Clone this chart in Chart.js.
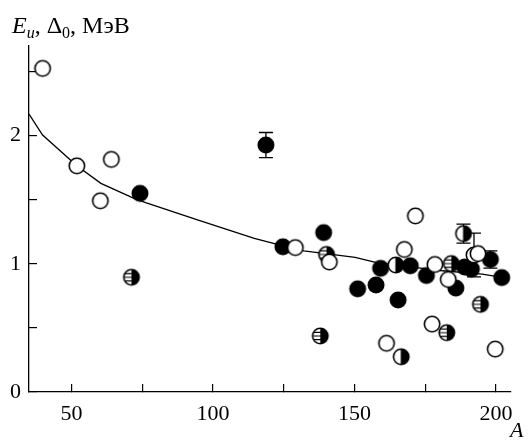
<!DOCTYPE html>
<html><head><meta charset="utf-8">
<script src="https://cdn.jsdelivr.net/npm/chart.js@4/dist/chart.umd.min.js"></script>
<style>
body{margin:0;font-size:22px;font-family:"Liberation Serif","Times New Roman",serif}
#wrap{width:530px;height:441px;position:relative;font-family:"Liberation Serif","Times New Roman","Tinos","Noto Serif","DejaVu Serif",serif;color:#000}
#wrap canvas{position:absolute;left:0;top:0}
.lbl{position:absolute;white-space:nowrap;line-height:24px;font-size:24px}
.lbl sub{font-size:16px;line-height:0;vertical-align:-5px}
</style>
</head><body><div id="wrap"><canvas id="c" width="530" height="441"></canvas>
<div class="lbl" style="left:12px;top:13px"><i>E</i><sub><i>u</i></sub>, Δ<sub>0</sub>, МэВ</div>
<div class="lbl" style="left:510px;top:419px;font-size:22px;line-height:22px"><i>A</i></div>
</div>
<script>
// ---- data ----
const openA = [39.8, 51.9, 60.2, 64.1, 129.1, 141.1, 167.6, 171.5, 178.4, 183.1, 192.2, 193.6, 177.4, 161.3, 199.7];
const openY = [2.525, 1.765, 1.492, 1.815, 1.127, 1.014, 1.112, 1.374, 0.995, 0.878, 1.069, 1.080, 0.530, 0.380, 0.335];

const filledA = [74.2, 118.7, 124.7, 139.1, 151.1, 157.6, 159.2, 165.4, 169.7, 175.4, 185.8, 188.9, 191.3, 198.0, 202.0];
const filledY = [1.55, 1.927, 1.133, 1.244, 0.805, 0.835, 0.965, 0.718, 0.985, 0.909, 0.811, 0.975, 0.959, 1.034, 0.893];

const stripedA = [71.2, 137.9, 140.1, 182.6, 184.2, 194.5];
const stripedY = [0.895, 0.437, 1.073, 0.463, 1.002, 0.684];

const halfA = [164.6, 166.5, 188.5];
const halfY = [0.991, 0.275, 1.236];

const errA = [118.7, 188.5, 192.2, 198.0];
const errY = [1.927, 1.236, 1.069, 1.034];
const errE = [0.098, 0.074, 0.17, 0.068];

const curveA = [35, 39.8, 51.9, 60.4, 72.1, 76.2, 94.8, 114.6, 125.1, 132.1, 150.2, 157.8, 181.1, 195.1, 202.1];
const curveY = [2.168, 2.005, 1.765, 1.628, 1.511, 1.478, 1.342, 1.199, 1.139, 1.102, 1.051, 1.009, 0.946, 0.920, 0.895];

const xTicks = [50, 75, 100, 125, 150, 175, 200];
const xLabels = ['50', '', '100', '', '150', '', '200'];
const yTicks = [0, 0.5, 1, 1.5, 2, 2.5];
const yLabels = ['0', '', '1', '', '2', ''];

// ---- markers ----
function makeMarker(type) {
  const s = 22, c = document.createElement('canvas');
  c.width = s; c.height = s;
  const g = c.getContext('2d');
  const cx = 11, cy = 11, r = 7.7;
  g.lineWidth = 1.6; g.strokeStyle = '#000'; g.fillStyle = '#000';
  if (type === 'filled') {
    g.beginPath(); g.arc(cx, cy, r + 0.8, 0, Math.PI * 2); g.fill();
    return c;
  }
  g.beginPath(); g.arc(cx, cy, r, 0, Math.PI * 2); g.fillStyle = '#fff'; g.fill();
  if (type === 'half' || type === 'striped') {
    g.fillStyle = '#000';
    g.beginPath(); g.moveTo(cx, cy - r); g.arc(cx, cy, r, -Math.PI / 2, Math.PI / 2); g.closePath(); g.fill();
  }
  if (type === 'striped') {
    g.save();
    g.beginPath(); g.moveTo(cx, cy - r); g.arc(cx, cy, r, -Math.PI / 2, Math.PI / 2, true); g.closePath(); g.clip();
    g.lineWidth = 1.2;
    [-3.6, 0, 3.6].forEach(d => { g.beginPath(); g.moveTo(cx - r - 1, cy + d); g.lineTo(cx, cy + d); g.stroke(); });
    g.restore();
  }
  if (type === 'half') {
    g.lineWidth = 1; g.beginPath(); g.moveTo(cx, cy - r); g.lineTo(cx, cy + r); g.stroke();
  }
  g.lineWidth = 1.6;
  g.beginPath(); g.arc(cx, cy, r, 0, Math.PI * 2); g.stroke();
  return c;
}
const pts = (A, Y) => A.map((a, i) => ({ x: a, y: Y[i] }));
const FAM = '"Liberation Serif", "Times New Roman", "Tinos", "Noto Serif", "DejaVu Serif", serif';

const errPlugin = {
  id: 'err',
  beforeDatasetsDraw(chart) {
    const { ctx, scales: { x, y } } = chart;
    ctx.save(); ctx.strokeStyle = '#000'; ctx.lineWidth = 1.3;
    errA.forEach((a, i) => {
      const px = x.getPixelForValue(a);
      const y1 = y.getPixelForValue(errY[i] + errE[i]);
      const y2 = y.getPixelForValue(errY[i] - errE[i]);
      ctx.beginPath();
      ctx.moveTo(px, y1); ctx.lineTo(px, y2);
      ctx.moveTo(px - 7, y1); ctx.lineTo(px + 7, y1);
      ctx.moveTo(px - 7, y2); ctx.lineTo(px + 7, y2);
      ctx.stroke();
    });
    ctx.restore();
  }
};

const chart = new Chart(document.getElementById('c'), {
  type: 'scatter',
  data: {
    datasets: [
      { data: pts(openA, openY), pointStyle: makeMarker('open'), pointRadius: 8, clip: false },
      { data: pts(halfA, halfY), pointStyle: makeMarker('half'), pointRadius: 8, clip: false },
      { data: pts(stripedA, stripedY), pointStyle: makeMarker('striped'), pointRadius: 8, clip: false },
      { data: pts(filledA, filledY), pointStyle: makeMarker('filled'), pointRadius: 8, clip: false },
      { type: 'line', data: pts(curveA, curveY), borderColor: '#000', borderWidth: 1.3, pointRadius: 0, tension: 0, fill: false }
    ]
  },
  options: {
    responsive: false, animation: false,
    layout: { padding: { top: 46, right: 15, left: 0, bottom: 0 } },
    plugins: { legend: { display: false }, tooltip: { enabled: false } },
    scales: {
      x: {
        type: 'linear', min: 35, max: 205, position: 'bottom',
        afterFit(s) { s.height = 49; },
        afterBuildTicks(s) { s.ticks = xTicks.map(v => ({ value: v })); },
        ticks: { callback: (v) => xLabels[xTicks.indexOf(v)] ?? '', autoSkip: false, maxRotation: 0,
          font: { family: FAM, size: 22 }, color: '#000', padding: 17 },
        grid: { drawOnChartArea: false, drawTicks: true, tickLength: -8, color: '#000', lineWidth: 1.2 },
        border: { color: '#000', width: 1.3 }
      },
      y: {
        type: 'linear', min: 0, max: 2.7, position: 'left',
        afterFit(s) { s.width = 29; },
        afterBuildTicks(s) { s.ticks = yTicks.map(v => ({ value: v })); },
        ticks: { callback: (v) => yLabels[yTicks.indexOf(v)] ?? '', autoSkip: false,
          font: { family: FAM, size: 22 }, color: '#000', padding: 16 },
        grid: { drawOnChartArea: false, drawTicks: true, tickLength: -8, color: '#000', lineWidth: 1.2 },
        border: { color: '#000', width: 1.3 }
      }
    }
  },
  plugins: [errPlugin]
});
const redraw = () => chart.update();
if (document.fonts) {
  Promise.all([
    document.fonts.load('22px "Liberation Serif"'),
    document.fonts.load('italic 22px "Liberation Serif"')
  ]).then(redraw, redraw);
  document.fonts.ready.then(redraw);
}
setTimeout(redraw, 200);
setTimeout(redraw, 800);
</script></body></html>
